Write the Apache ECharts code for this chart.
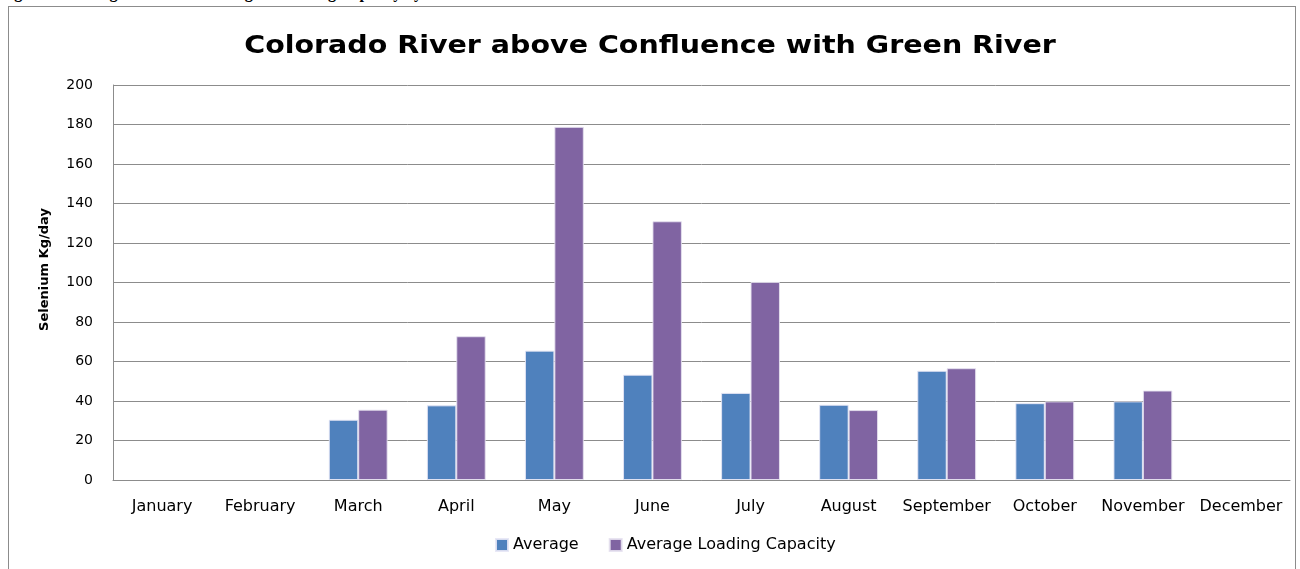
<!DOCTYPE html>
<html>
<head>
<meta charset="utf-8">
<script src="https://cdn.jsdelivr.net/npm/echarts@6/dist/echarts.min.js"></script>
<style>
  html, body { margin: 0; padding: 0; background: #fff; }
  #wrap { position: relative; width: 1300px; height: 569px; overflow: hidden; }
  #caption {
    position: absolute; left: 0; top: -16px;
    font: bold 16px "Liberation Serif", serif; color: #000; white-space: nowrap;
  }
  #frame {
    position: absolute; left: 8px; top: 6px; width: 1288px; height: 580px;
    border: 1px solid #8c8c8c; box-sizing: border-box; pointer-events: none;
  }
  #chart { position: absolute; left: 0; top: 0; width: 1300px; height: 569px; }
</style>
</head>
<body>
<div id="wrap">
  <div id="caption">Figure 4.&nbsp;&nbsp;Average Selenium Loading vs. Loading Capacity by Month</div>
  <div id="chart"></div>
  <div id="frame"></div>
</div>
<script>
// Monthly selenium loads (kg/day); months without samples are left empty
const months = ['January', 'February', 'March', 'April', 'May', 'June',
                'July', 'August', 'September', 'October', 'November', 'December'];
const average = [null, null, 30.5, 37.8, 65.5, 53.3, 44.1, 38.1, 55.3, 38.9, 39.8, null];
const loadingCapacity = [null, null, 35.6, 72.8, 178.8, 131.0, 100.3, 35.4, 56.6, 39.8, 45.3, null];
const yTicks = [0, 20, 40, 60, 80, 100, 120, 140, 160, 180, 200];
const chartTitle = 'Colorado River above Confluence with Green River';

const chart = echarts.init(document.getElementById('chart'), null, { renderer: 'canvas' });
const font = 'DejaVu Sans';

chart.setOption({
  animation: false,
  // Title drawn as a graphic so it can be widened a little horizontally
  graphic: [{
    type: 'text',
    x: 650, y: 46,
    scaleX: 1.14,
    style: {
      text: chartTitle,
      font: 'bold 25px "DejaVu Sans"',
      fill: '#000',
      align: 'center',
      verticalAlign: 'middle'
    }
  }],
  legend: {
    bottom: 11, left: 490,
    itemWidth: 12, itemHeight: 12, itemGap: 30,
    icon: 'rect',
    textStyle: { fontFamily: font, fontSize: 16, color: '#000' },
    data: ['Average', 'Average Loading Capacity']
  },
  grid: { left: 113, right: 10, top: 85, bottom: 89, containLabel: false },
  xAxis: {
    type: 'category',
    data: months,
    axisLine: { lineStyle: { color: '#8c8c8c', width: 1 } },
    axisTick: { show: false },
    axisLabel: { fontFamily: font, fontSize: 16, color: '#000', margin: 19, interval: 0 }
  },
  yAxis: {
    type: 'value',
    min: yTicks[0], max: yTicks[yTicks.length - 1], interval: 20,
    name: 'Selenium Kg/day',
    nameLocation: 'middle', nameGap: 62, nameRotate: 90,
    nameTextStyle: { fontFamily: font, fontWeight: 'bold', fontSize: 13, color: '#000', padding: [0, 0, 0, 26] },
    axisLine: { show: true, lineStyle: { color: '#8c8c8c', width: 1 } },
    axisTick: { show: false },
    axisLabel: { fontFamily: font, fontSize: 14, color: '#000', margin: 20 },
    splitLine: { lineStyle: { color: '#8c8c8c', width: 1 } }
  },
  series: [
    {
      name: 'Average', type: 'bar', data: average,
      barGap: '0%', barCategoryGap: '40%',
      itemStyle: { color: '#4F81BD', borderColor: 'rgba(230,230,245,0.9)', borderWidth: 1 }
    },
    {
      name: 'Average Loading Capacity', type: 'bar', data: loadingCapacity,
      barGap: '0%', barCategoryGap: '40%',
      itemStyle: { color: '#8064A2', borderColor: 'rgba(230,225,240,0.9)', borderWidth: 1 }
    }
  ]
});
</script>
</body>
</html>
